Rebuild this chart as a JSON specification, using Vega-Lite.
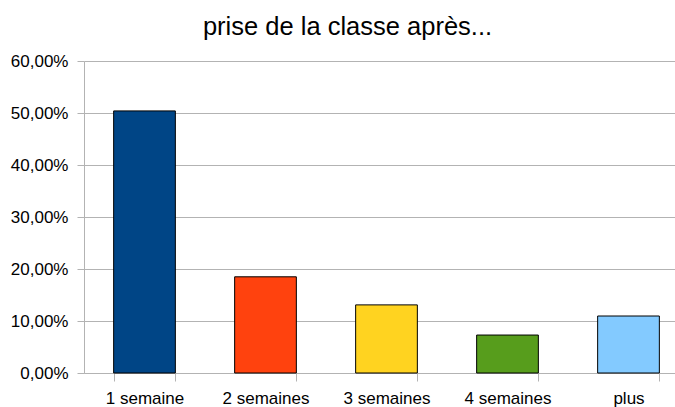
{
  "$schema": "https://vega.github.io/schema/vega-lite/v6.json",
  "autosize": {"type": "none"},
  "width": 591,
  "height": 312,
  "padding": {"left": 84, "top": 61, "right": 0, "bottom": 34},
  "background": "white",
  "title": {
    "text": "prise de la classe après...",
    "font": "Liberation Sans",
    "fontSize": 25.5,
    "fontWeight": "normal",
    "color": "black",
    "anchor": "middle",
    "frame": "group",
    "baseline": "alphabetic",
    "offset": 24,
    "dy": 32,
    "dx": -32
  },
  "data": {
    "values": [
      {"periode": "1 semaine", "part": 0.504},
      {"periode": "2 semaines", "part": 0.185},
      {"periode": "3 semaines", "part": 0.131},
      {"periode": "4 semaines", "part": 0.073},
      {"periode": "plus", "part": 0.1096}
    ]
  },
  "mark": {"type": "bar", "stroke": "black", "strokeWidth": 1},
  "encoding": {
    "x": {
      "field": "periode",
      "type": "nominal",
      "sort": null,
      "scale": {"range": [0, 605], "paddingInner": 0.49, "paddingOuter": 0.245},
      "axis": {
        "title": null,
        "labelAngle": 0,
        "labelFont": "Liberation Sans",
        "labelFontSize": 17,
        "labelColor": "black",
        "labelPadding": 9,
        "tickBand": "extent",
        "tickSize": 8,
        "tickColor": "#b3b3b3",
        "domainColor": "#b3b3b3",
        "grid": false
      }
    },
    "y": {
      "field": "part",
      "type": "quantitative",
      "scale": {"domain": [0, 0.6], "nice": false},
      "axis": {
        "title": null,
        "values": [0, 0.1, 0.2, 0.3, 0.4, 0.5, 0.6],
        "labelExpr": "replace(format(datum.value, '.2%'), '.', ',')",
        "labelFont": "Liberation Sans",
        "labelFontSize": 17,
        "labelColor": "black",
        "labelPadding": 9,
        "tickSize": 7,
        "tickColor": "#b3b3b3",
        "domainColor": "#b3b3b3",
        "grid": true,
        "gridColor": "#b3b3b3",
        "gridOpacity": 1
      }
    },
    "color": {
      "field": "periode",
      "type": "nominal",
      "scale": {
        "domain": ["1 semaine", "2 semaines", "3 semaines", "4 semaines", "plus"],
        "range": ["#004586", "#ff420e", "#ffd320", "#579d1c", "#83caff"]
      },
      "legend": null
    }
  },
  "config": {"view": {"stroke": null}}
}
